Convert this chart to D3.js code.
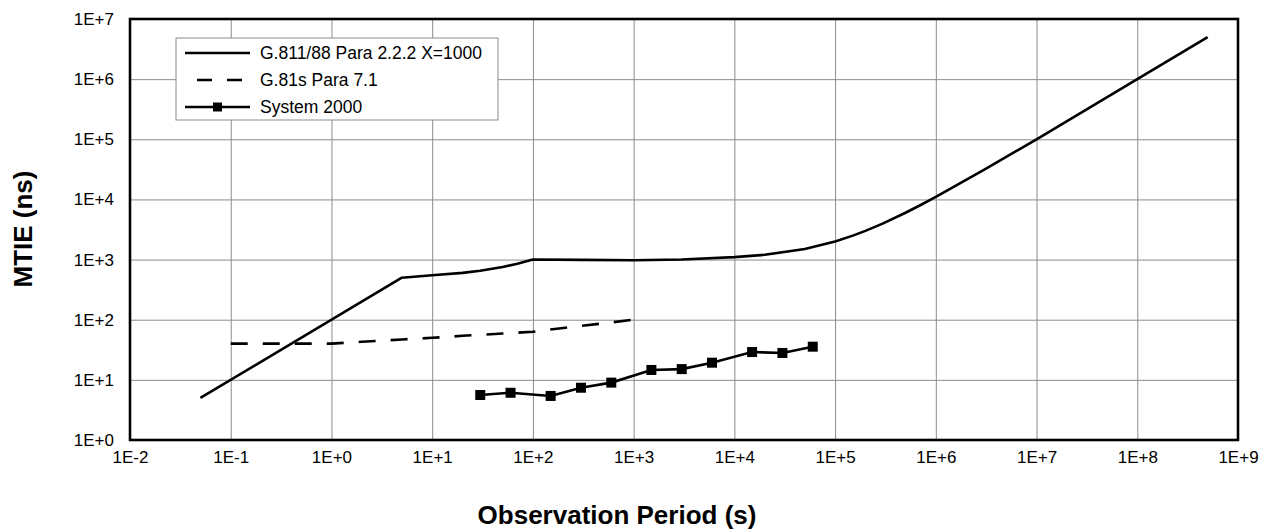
<!DOCTYPE html>
<html>
<head>
<meta charset="utf-8">
<script src="https://cdn.jsdelivr.net/npm/d3@7"></script>
<style>
  body { margin: 0; background: #fff; }
  text { font-family: "Liberation Sans", Arial, Helvetica, sans-serif; fill: #000; }
</style>
</head>
<body>
<div id="plot"></div>
<script>
// series (tau in s, MTIE in ns)
var g811Tau  = [0.05, 5, 10, 20, 30, 50, 70, 100, 300, 1000, 3000, 1e4, 2e4, 5e4, 1e5, 1.5e5, 2e5, 3e5, 5e5, 7e5, 1e6, 3e6, 1e7, 3e7, 1e8, 5e8];
var g811Mtie = [5, 500, 550, 600, 650, 750, 850, 1000, 990, 975, 1000, 1100, 1200, 1500, 2000, 2500, 3000, 4000, 6000, 8000, 11000, 31000, 100000, 300000, 1000000, 5000000];

var g81sTau  = [0.1, 1, 2, 5, 10, 20, 50, 100, 200, 500, 1000];
var g81sMtie = [40, 40, 43, 47, 50, 54, 59, 63, 73, 87, 100];

var sysTau  = [30, 60, 150, 300, 600, 1500, 3000, 6000, 15000, 30000, 60000];
var sysMtie = [5.6, 6.1, 5.4, 7.4, 9.0, 14.6, 15.1, 19.3, 29, 28, 35.6];

var xTicks = [1e-2, 1e-1, 1e0, 1e1, 1e2, 1e3, 1e4, 1e5, 1e6, 1e7, 1e8, 1e9];
var yTicks = [1e0, 1e1, 1e2, 1e3, 1e4, 1e5, 1e6, 1e7];
var legendNames = ["G.811/88 Para 2.2.2 X=1000", "G.81s Para 7.1", "System 2000"];

// layout
var W = 1274, H = 532;
var margin = {left: 130, top: 19, right: 36, bottom: 92};
var width = W - margin.left - margin.right,
    height = H - margin.top - margin.bottom;

var svg = d3.select("#plot").append("svg")
    .attr("width", W)
    .attr("height", H);

var g = svg.append("g").attr("transform", "translate(" + margin.left + "," + margin.top + ")");

var x = d3.scaleLog().domain([1e-2, 1e9]).range([0, width]);
var y = d3.scaleLog().domain([1e0, 1e7]).range([height, 0]);

function expLabel(v) {
  var e = Math.round(Math.log10(v));
  return "1E" + (e < 0 ? "-" : "+") + Math.abs(e);
}

// grid + tick labels
var xAxis = g.append("g")
    .attr("transform", "translate(0," + height + ")")
    .call(d3.axisBottom(x).tickValues(xTicks).tickFormat(expLabel).tickSize(-height).tickPadding(11));
var yAxis = g.append("g")
    .call(d3.axisLeft(y).tickValues(yTicks).tickFormat(expLabel).tickSize(-width).tickPadding(16));

[xAxis, yAxis].forEach(function (a) {
  a.select(".domain").remove();
  a.selectAll(".tick line").attr("stroke", "#8c8c8c").attr("stroke-width", 1);
  a.selectAll(".tick text").attr("font-size", 17).attr("font-family", "Liberation Sans, Arial, sans-serif");
});

// lines
var line = d3.line()
    .x(function (d) { return x(d[0]); })
    .y(function (d) { return y(d[1]); });

var g811 = d3.zip(g811Tau, g811Mtie);
var g81s = d3.zip(g81sTau, g81sMtie);
var sys  = d3.zip(sysTau, sysMtie);

g.append("path").datum(g811)
    .attr("d", line)
    .attr("fill", "none").attr("stroke", "#000").attr("stroke-width", 2.6)
    .attr("stroke-linejoin", "round");

g.append("path").datum(g81s)
    .attr("d", line)
    .attr("fill", "none").attr("stroke", "#000").attr("stroke-width", 2.6)
    .attr("stroke-dasharray", "17,15");

g.append("path").datum(sys)
    .attr("d", line)
    .attr("fill", "none").attr("stroke", "#000").attr("stroke-width", 2.6);

g.selectAll(".mk").data(sys).enter().append("rect")
    .attr("class", "mk")
    .attr("x", function (d) { return x(d[0]) - 5; })
    .attr("y", function (d) { return y(d[1]) - 5; })
    .attr("width", 10).attr("height", 10)
    .attr("fill", "#000");

// frame
g.append("rect")
    .attr("width", width).attr("height", height)
    .attr("fill", "none").attr("stroke", "#000").attr("stroke-width", 2.6);

// legend
var lg = g.append("g").attr("transform", "translate(46,19)");
lg.append("rect")
    .attr("width", 322).attr("height", 82)
    .attr("fill", "#fff").attr("stroke", "#8c8c8c").attr("stroke-width", 1);

legendNames.forEach(function (name, i) {
  var row = lg.append("g").attr("transform", "translate(0," + (15 + i * 27) + ")");
  var ln = row.append("line")
      .attr("x1", 9).attr("x2", 74).attr("y1", 0).attr("y2", 0)
      .attr("stroke", "#000").attr("stroke-width", 2.6);
  if (i === 1) ln.attr("x1", 21).attr("x2", 66).attr("stroke-dasharray", "15,15");
  if (i === 2) row.append("rect").attr("x", 37).attr("y", -4.5).attr("width", 9).attr("height", 9).attr("fill", "#000");
  row.append("text")
      .attr("x", 84).attr("y", 0).attr("dy", "0.35em")
      .attr("font-size", 17.5)
      .text(name);
});

// axis titles
svg.append("text")
    .attr("x", 617).attr("y", 524)
    .attr("text-anchor", "middle")
    .attr("font-size", 26).attr("font-weight", "bold")
    .text("Observation Period (s)");

svg.append("text")
    .attr("transform", "translate(32,229) rotate(-90)")
    .attr("text-anchor", "middle")
    .attr("font-size", 26).attr("font-weight", "bold")
    .text("MTIE (ns)");
</script>
</body>
</html>
